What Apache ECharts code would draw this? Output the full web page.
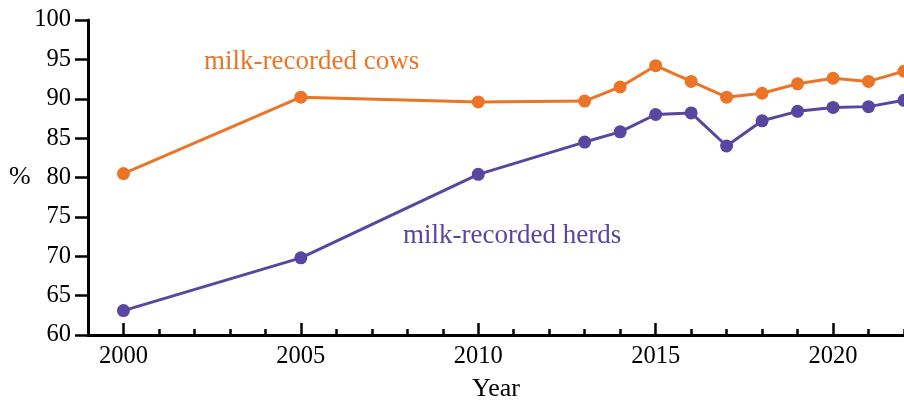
<!DOCTYPE html>
<html>
<head>
<meta charset="utf-8">
<script src="https://cdn.jsdelivr.net/npm/echarts@6/dist/echarts.min.js"></script>
<style>
html,body{margin:0;padding:0;background:#fff;}
#chart{width:904px;height:400px;}
</style>
</head>
<body>
<div id="chart"></div>
<script>
const years = [2000, 2005, 2010, 2013, 2014, 2015, 2016, 2017, 2018, 2019, 2020, 2021, 2022];
const cows  = [80.5, 90.2, 89.6, 89.7, 91.5, 94.2, 92.2, 90.2, 90.7, 91.9, 92.6, 92.2, 93.5];
const herds = [63.1, 69.8, 80.4, 84.5, 85.8, 88.0, 88.2, 84.0, 87.2, 88.4, 88.9, 89.0, 89.8];
const xMajorTicks = [2000, 2005, 2010, 2015, 2020];
const yTicks = [60, 65, 70, 75, 80, 85, 90, 95, 100];
const cowsName = 'milk-recorded cows';
const herdsName = 'milk-recorded herds';
const xTitle = 'Year';
const yTitle = '%';

const FONT = "'Liberation Serif', 'Times New Roman', serif";
const ORANGE = '#EC7426';
const PURPLE = '#5946A0';

const chart = echarts.init(document.getElementById('chart'), null, {renderer: 'canvas'});
const pair = arr => years.map((y, i) => [y, arr[i]]);

chart.setOption({
  animation: false,
  backgroundColor: '#fff',
  grid: {left: 88, right: 0, top: 20, bottom: 65, containLabel: false, outerBoundsMode: 'none'},
  xAxis: [{
    type: 'value', min: 1999, max: 2022, interval: 1,
    name: xTitle, nameLocation: 'middle', nameGap: 41,
    nameTextStyle: {fontFamily: FONT, fontSize: 26, color: '#000'},
    axisLine: {show: true, lineStyle: {color: '#000', width: 3}},
    axisTick: {show: true, inside: true, length: 6, lineStyle: {color: '#000', width: 2.5}},
    axisLabel: {customValues: xMajorTicks, formatter: v => String(v), fontFamily: FONT, fontSize: 24.5, color: '#000', margin: 9},
    splitLine: {show: false}
  }, {
    type: 'value', min: 1999, max: 2022, position: 'bottom',
    axisLine: {show: false},
    axisTick: {show: true, inside: true, length: 12, customValues: xMajorTicks, lineStyle: {color: '#000', width: 2.5}},
    axisLabel: {show: false},
    splitLine: {show: false}
  }],
  yAxis: {
    type: 'value', min: 60, max: 100, interval: 5,
    axisLine: {show: true, lineStyle: {color: '#000', width: 3}},
    axisTick: {show: true, inside: false, length: 13, customValues: yTicks, lineStyle: {color: '#000', width: 2.5}},
    axisLabel: {formatter: v => String(v), fontFamily: FONT, fontSize: 24.5, color: '#000', margin: 17},
    splitLine: {show: false}
  },
  graphic: [
    {type: 'text', left: 9, top: 164, style: {text: yTitle, fontFamily: FONT, fontSize: 26, fill: '#000'}},
    {type: 'text', left: 204, top: 48, style: {text: cowsName, fontFamily: FONT, fontSize: 27, fill: ORANGE}},
    {type: 'text', left: 403, top: 222, style: {text: herdsName, fontFamily: FONT, fontSize: 27, fill: PURPLE}}
  ],
  series: [{
    name: cowsName, type: 'line', data: pair(cows),
    symbol: 'circle', symbolSize: 13, clip: false,
    lineStyle: {color: ORANGE, width: 3}, itemStyle: {color: ORANGE}
  }, {
    name: herdsName, type: 'line', data: pair(herds),
    symbol: 'circle', symbolSize: 13, clip: false,
    lineStyle: {color: PURPLE, width: 3}, itemStyle: {color: PURPLE}
  }]
});
</script>
</body>
</html>
